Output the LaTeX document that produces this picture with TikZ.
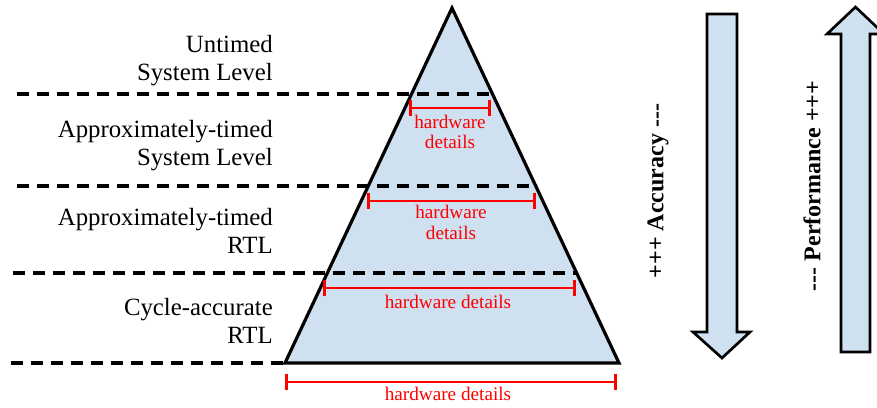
\documentclass[tikz,border=0pt]{standalone}
\usepackage{fontspec}
\setmainfont{Liberation Serif}
\usetikzlibrary{arrows.meta}
\definecolor{pyrblue}{RGB}{207,224,241}

\begin{document}
\begin{tikzpicture}[x=0.75pt,y=-0.75pt,
    level/.style={dash pattern=on 9pt off 6pt,line width=2.4pt},
    hw/.style={red,line width=2.2pt,{Bar[width=12pt]}-{Bar[width=12pt]}},
    hwtext/.style={red,align=center,inner sep=0pt,font=\fontsize{14.4}{15.5}\selectfont},
    lbl/.style={anchor=east,align=right,inner sep=0pt,font=\fontsize{18.6}{21}\selectfont},
    bigarrow/.style={draw,fill=pyrblue,line width=2pt,line join=miter},
    axis/.style={rotate=90,inner sep=0pt,font=\fontsize{18}{20}\selectfont\bfseries}]

\useasboundingbox (0,0) rectangle (877,407);
\clip (0,0) rectangle (877,407);

\coordinate (P_top) at (452,8);
\coordinate (P_left) at (285,363);
\coordinate (P_right) at (619,363);
\filldraw[fill=pyrblue,line width=2.4pt,line join=miter] (P_left) -- (P_top) -- (P_right) -- cycle;

\draw[level] (17,94) -- (495,94);
\draw[level] (17,186) -- (537,186);
\draw[level] (13,273) -- (577,273);
\draw[level] (11,363) -- (P_left);

\node[lbl] (L_1) at (273,61) {Untimed\\System Level};
\node[lbl] (L_2) at (273,146) {Approximately-timed\\System Level};
\node[lbl] (L_3) at (273,231) {Approximately-timed\\RTL};
\node[lbl] (L_4) at (273,321) {Cycle-accurate\\RTL};

\draw[hw] (409,108) -- (491,108);
\node[hwtext] (H_1) at (450,132) {hardware\\details};
\draw[hw] (367,201) -- (536,201);
\node[hwtext] (H_2) at (451,222.5) {hardware\\details};
\draw[hw] (323,288) -- (576,288);
\node[hwtext] (H_3) at (448,301.5) {hardware details};
\draw[hw] (285,382) -- (617,382);
\node[hwtext] (H_4) at (448,393.5) {hardware details};

\draw[bigarrow] (707,14) -- (737,14) -- (737,332) -- (750,332) -- (722,358)
    -- (693,332) -- (707,332) -- cycle;
\draw[bigarrow] (841,352) -- (870,352) -- (870,34) -- (884,34) -- (855.5,7)
    -- (827,34) -- (841,34) -- cycle;

\node[axis] (A_acc) at (658,191) {+++ Accuracy -{}-{}-};
\node[axis] (A_perf) at (812,186) {-{}-{}- Performance +++};

\end{tikzpicture}
\end{document}
